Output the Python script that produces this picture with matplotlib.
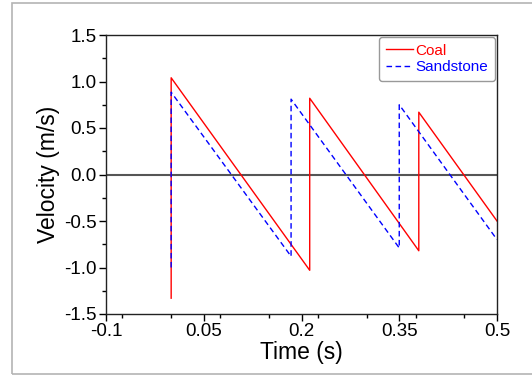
import matplotlib
matplotlib.use("Agg")
import matplotlib.pyplot as plt
from matplotlib.patches import Rectangle
from matplotlib.ticker import MultipleLocator

plt.rcParams['font.family'] = ['Liberation Sans', 'DejaVu Sans']
plt.rcParams['axes.unicode_minus'] = False

# Data (sawtooth velocity histories)
coal_t = [0.0, 0.0, 0.2126, 0.2126, 0.380, 0.380, 0.5]
coal_v = [-1.33, 1.04, -1.03, 0.82, -0.82, 0.67, -0.50]
sand_t = [0.0, 0.0, 0.184, 0.184, 0.350, 0.350, 0.5]
sand_v = [-1.00, 0.885, -0.88, 0.81, -0.79, 0.75, -0.70]

x_ticks = [-0.1, 0.05, 0.2, 0.35, 0.5]
x_labels = ["-0.1", "0.05", "0.2", "0.35", "0.5"]
y_ticks = [-1.5, -1.0, -0.5, 0.0, 0.5, 1.0, 1.5]

fig = plt.figure(figsize=(5.32, 3.76), dpi=100)
ax = fig.add_axes([106 / 532, 62 / 376, 391 / 532, 279 / 376])

ax.axhline(0, color="#555555", lw=1.5, zorder=1)
ax.plot(coal_t, coal_v, color="red", lw=1.0, label="Coal", zorder=2)
ax.plot(sand_t, sand_v, color="blue", lw=1.0, dashes=(4, 2.5), label="Sandstone", zorder=3)

ax.set_xlim(-0.1, 0.5)
ax.set_ylim(-1.5, 1.5)
ax.set_xticks(x_ticks)
ax.set_xticklabels(x_labels)
ax.set_yticks(y_ticks)
ax.xaxis.set_minor_locator(MultipleLocator(0.075))
ax.yaxis.set_minor_locator(MultipleLocator(0.25))
ax.tick_params(which="major", direction="out", length=5, width=1, labelsize=13.5, pad=1.5)
ax.tick_params(which="minor", direction="out", length=3, width=1)

for s in ax.spines.values():
    s.set_color("#222222")
    s.set_linewidth(1.0)

ax.set_xlabel("Time (s)", fontsize=16.5, labelpad=1)
ax.set_ylabel("Velocity (m/s)", fontsize=16.5, labelpad=3)

leg = ax.legend(loc="upper right", bbox_to_anchor=(0.995, 0.993), borderaxespad=0,
                fontsize=11, handlelength=1.8, handletextpad=0.15, labelspacing=0.15,
                fancybox=True, framealpha=1, edgecolor="#999999", borderpad=0.45)
for txt, c in zip(leg.get_texts(), ["red", "blue"]):
    txt.set_color(c)

# light gray frame around the figure
fig.add_artist(Rectangle((12 / 532, 2 / 376), 0.99, 371 / 376, transform=fig.transFigure,
                         fill=False, edgecolor="#b4b4b4", lw=1.2))

fig.savefig("out.png", dpi=100)
